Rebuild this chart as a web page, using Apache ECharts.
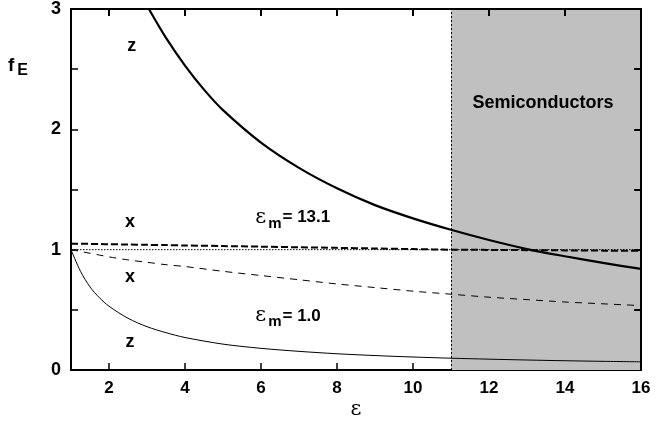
<!DOCTYPE html>
<html>
<head>
<meta charset="utf-8">
<script src="https://cdn.jsdelivr.net/npm/echarts@6/dist/echarts.min.js"></script>
<style>
  html, body { margin: 0; padding: 0; background: #fff; }
  #main { width: 655px; height: 425px; }
</style>
</head>
<body>
<div id="main"></div>
<script>
// epsilon grid used for the eps_m = 1.0 curves and the x curve of 13.1
const eps = [1, 1.25, 1.5, 1.75, 2, 2.5, 3, 3.5, 4, 5, 6, 7, 8, 9, 10, 11, 12, 13, 14, 15, 16];
const zLow = [1.0, 0.82, 0.69, 0.6, 0.53, 0.43, 0.36, 0.31, 0.27, 0.215, 0.18, 0.155, 0.135, 0.12, 0.108, 0.098, 0.09, 0.083, 0.077, 0.072, 0.068];
const xLow = [1.0, 0.985, 0.97, 0.955, 0.94, 0.915, 0.895, 0.875, 0.86, 0.82, 0.785, 0.75, 0.715, 0.685, 0.655, 0.63, 0.605, 0.585, 0.565, 0.55, 0.535];
const xHigh = [1.05, 1.049, 1.048, 1.047, 1.045, 1.043, 1.04, 1.038, 1.035, 1.03, 1.025, 1.02, 1.015, 1.01, 1.005, 1.0, 0.998, 0.996, 0.994, 0.992, 0.99];
const refLine = [1.0, 1.0];
const refEps = [1, 16];
// z curve for eps_m = 13.1 (enters from the top of the frame)
const epsZHigh = [3.05, 3.5, 4, 4.5, 5, 6, 7, 8, 9, 10, 11, 12, 13, 14, 15, 16];
const zHigh = [3.0, 2.76, 2.53, 2.33, 2.16, 1.89, 1.68, 1.51, 1.37, 1.26, 1.165, 1.08, 1.005, 0.945, 0.89, 0.84];
const semiRange = [11, 16];
const xTicks = [2, 4, 6, 8, 10, 12, 14, 16];
const yTicks = [0, 1, 2, 3];
const yMinor = [0.5, 1, 1.5, 2, 2.5];

const zip = (xs, ys) => xs.map((x, i) => [x, ys[i]]);
const font = '"Liberation Sans", Arial, Helvetica, sans-serif';

const myChart = echarts.init(document.getElementById('main'));

const tickStyle = { show: true, inside: true, length: 7, lineStyle: { color: '#000', width: 1.5 } };
const axisLine = { show: true, onZero: false, lineStyle: { color: '#000', width: 2 } };

// top/right frame and mirrored ticks as mark lines (tick length in data units)
const frameLines = [
    [{ coord: [1, 3] }, { coord: [16, 3] }],
    [{ coord: [16, 0] }, { coord: [16, 3] }]
];
xTicks.slice(0, -1).forEach(v => frameLines.push([{ coord: [v, 3] }, { coord: [v, 3 - 0.058] }]));
yMinor.forEach(v => frameLines.push([{ coord: [16, v] }, { coord: [16 - 0.18, v] }]));

myChart.setOption({
    animation: false,
    backgroundColor: '#fff',
    grid: { left: 71, right: 14, top: 9, bottom: 55, show: true, borderColor: '#000', borderWidth: 2, backgroundColor: 'transparent' },
    xAxis: {
        type: 'value', min: 1, max: 16, position: 'bottom',
        axisLine: axisLine,
        axisTick: Object.assign({ customValues: xTicks.slice(0, -1) }, tickStyle),
        axisLabel: { customValues: xTicks, color: '#000', fontFamily: font, fontWeight: 'bold', fontSize: 17, margin: 10 },
        splitLine: { show: false }
    },
    yAxis: {
        type: 'value', min: 0, max: 3, interval: 0.5, position: 'left',
        axisLine: axisLine,
        axisTick: tickStyle,
        axisLabel: {
            color: '#000', fontFamily: font, fontWeight: 'bold', fontSize: 18, margin: 10,
            formatter: v => (yTicks.indexOf(v) >= 0 ? String(v) : '')
        },
        splitLine: { show: false }
    },
    series: [
        {
            name: 'semiconductors', type: 'line', data: [], z: 1,
            markArea: {
                silent: true,
                itemStyle: { color: '#c0c0c0' },
                data: [[{ xAxis: semiRange[0] }, { xAxis: semiRange[1] }]]
            },
            markLine: {
                silent: true, symbol: 'none', label: { show: false },
                lineStyle: { color: '#000', type: [2, 2], width: 1 },
                data: [{ xAxis: semiRange[0] }]
            }
        },
        {
            name: 'frame', type: 'line', data: [], z: 10, clip: false,
            markLine: {
                silent: true, symbol: 'none', label: { show: false }, animation: false,
                lineStyle: { color: '#000', type: 'solid', width: 2 },
                data: frameLines
            }
        },
        {
            name: 'z 13.1', type: 'line', data: zip(epsZHigh, zHigh), z: 5,
            showSymbol: false, smooth: 0.3,
            lineStyle: { color: '#000', width: 2.2 }
        },
        {
            name: 'x 13.1', type: 'line', data: zip(eps, xHigh), z: 5,
            showSymbol: false, smooth: 0.3,
            lineStyle: { color: '#000', width: 2, type: [7, 3] }
        },
        {
            name: 'ref', type: 'line', data: zip(refEps, refLine), z: 4,
            showSymbol: false,
            lineStyle: { color: '#000', width: 1, type: [1.5, 1.5] }
        },
        {
            name: 'x 1.0', type: 'line', data: zip(eps, xLow), z: 5,
            showSymbol: false, smooth: 0.3,
            lineStyle: { color: '#000', width: 1, type: [7, 6] }
        },
        {
            name: 'z 1.0', type: 'line', data: zip(eps, zLow), z: 5,
            showSymbol: false, smooth: 0.3,
            lineStyle: { color: '#000', width: 1 }
        }
    ]
});

const px = pos => myChart.convertToPixel({ gridIndex: 0 }, pos);

// annotations placed from data coordinates
const txt = (pos, text, size) => {
    const p = px(pos);
    return {
        type: 'text', x: p[0], y: p[1], z: 20,
        style: { text: text, fill: '#000', font: 'bold ' + (size || 18) + 'px ' + font, align: 'center', verticalAlign: 'middle' }
    };
};
const epsLabel = (pos, value) => {
    const p = px(pos);
    return {
        type: 'text', x: p[0], y: p[1], z: 20,
        style: {
            text: '{e|ε}{s|m}{t|= ' + value + '}',
            align: 'left', verticalAlign: 'middle',
            rich: {
                e: { fontFamily: '"DejaVu Serif", serif', fontSize: 21, fill: '#000', lineHeight: 28, verticalAlign: 'middle' },
                s: { font: 'bold 15px ' + font, fill: '#000', lineHeight: 28, verticalAlign: 'bottom', padding: [0, 1, 0, 2] },
                t: { font: 'bold 17px ' + font, fill: '#000', lineHeight: 28, verticalAlign: 'middle' }
            }
        }
    };
};

myChart.setOption({
    graphic: [
        txt([2.6, 2.69], 'z'),
        txt([2.55, 1.23], 'x'),
        txt([2.55, 0.77], 'x'),
        txt([2.55, 0.23], 'z'),
        epsLabel([5.85, 1.27], '13.1'),
        epsLabel([5.85, 0.45], '1.0'),
        txt([13.42, 2.22], 'Semiconductors', 18),
        {
            type: 'text', left: 8, top: 56, z: 20,
            style: {
                text: '{f|f}{s|E}',
                rich: {
                    f: { font: 'bold 19px ' + font, fill: '#000', lineHeight: 26, verticalAlign: 'middle' },
                    s: { font: 'bold 16px ' + font, fill: '#000', lineHeight: 26, verticalAlign: 'bottom', padding: [0, 0, 0, 3] }
                }
            }
        },
        {
            type: 'text', x: 356, y: 410, z: 20,
            style: { text: 'ε', fill: '#000', fontFamily: '"DejaVu Serif", serif', fontSize: 21, align: 'center', verticalAlign: 'middle' }
        }
    ]
});
</script>
</body>
</html>
